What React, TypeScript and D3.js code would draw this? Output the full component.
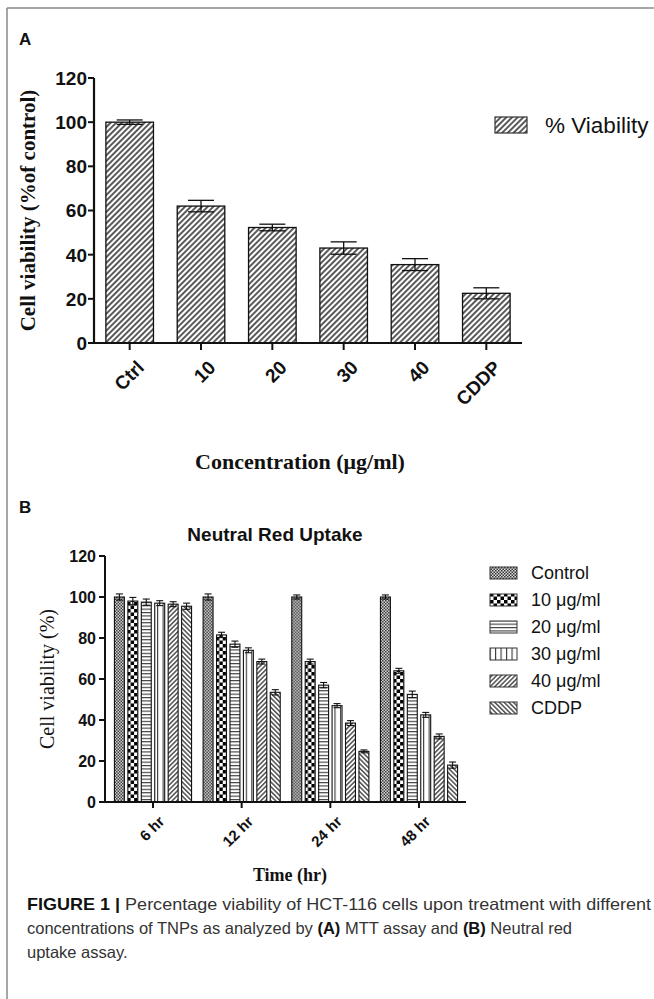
import React from 'react';
import * as d3 from 'd3';

// panel A: MTT assay
const concLabels = ['Ctrl', '10', '20', '30', '40', 'CDDP'];
const mttValues = [100, 62, 52.3, 43, 35.5, 22.5];
const mttErrors = [1, 2.6, 1.5, 2.8, 2.7, 2.5];

// panel B: neutral red uptake
const timeLabels = ['6 hr', '12 hr', '24 hr', '48 hr'];
const seriesNames = ['Control', '10 μg/ml', '20 μg/ml', '30 μg/ml', '40 μg/ml', 'CDDP'];
const nrValues = [
  [100, 98, 97.5, 97, 96.5, 95.5],
  [100, 81.5, 77, 74, 68.5, 53.5],
  [100, 68.5, 57, 47, 38.5, 24.7],
  [100, 64, 52.5, 42.5, 32, 18],
];
const nrErrors = [
  [1.5, 1.8, 1.5, 1.2, 1.2, 1.5],
  [1.5, 1.3, 1.5, 1.2, 1.2, 1.3],
  [1, 1.2, 1.3, 1, 1.2, 0.7],
  [1, 1.2, 1.6, 1.2, 1.2, 1.5],
];
const yTicks = [0, 20, 40, 60, 80, 100, 120];

const patternIds = ['pCtrl', 'pChk', 'pHor', 'pVer', 'pFwd', 'pBck'];

const sans = 'Liberation Sans, Arial, sans-serif';
const serif = 'Liberation Serif, Times New Roman, serif';

export default function App() {
  // A scales
  const xA = d3.scaleBand().domain(concLabels).range([94, 522]).paddingInner(0.333).paddingOuter(0.1667);
  const yA = d3.scaleLinear().domain([0, 120]).range([343, 78]);

  // B scales
  const x0 = d3.scaleBand().domain(timeLabels).range([106, 466]).paddingInner(0.1).paddingOuter(0.08);
  const x1 = d3.scaleBand().domain(seriesNames).range([0, x0.bandwidth()]).paddingInner(0.26).paddingOuter(0.1);
  const yB = d3.scaleLinear().domain([0, 120]).range([802, 556]);

  const capA = 13;
  const capB = 3.5;

  return (
    <svg width={654} height={999} style={{ position: 'absolute', left: 0, top: 0, background: '#fff' }}>
      <defs>
        <pattern id="hatchA" patternUnits="userSpaceOnUse" width={4} height={4} patternTransform="rotate(45)">
          <rect width={4} height={4} fill="#fff" />
          <line x1={1} y1={0} x2={1} y2={4} stroke="#222" strokeWidth={1.5} />
        </pattern>
        <pattern id="pCtrl" patternUnits="userSpaceOnUse" width={3} height={3}>
          <rect width={3} height={3} fill="#ddd" />
          <rect width={1.5} height={1.5} fill="#333" />
          <rect x={1.5} y={1.5} width={1.5} height={1.5} fill="#333" />
        </pattern>
        <pattern id="pChk" patternUnits="userSpaceOnUse" width={7} height={7}>
          <rect width={7} height={7} fill="#fff" />
          <rect width={3.5} height={3.5} fill="#000" />
          <rect x={3.5} y={3.5} width={3.5} height={3.5} fill="#000" />
        </pattern>
        <pattern id="pHor" patternUnits="userSpaceOnUse" width={4} height={3.4}>
          <rect width={4} height={3.4} fill="#fff" />
          <line x1={0} y1={0.6} x2={4} y2={0.6} stroke="#222" strokeWidth={1} />
        </pattern>
        <pattern id="pVer" patternUnits="userSpaceOnUse" width={5.5} height={4}>
          <rect width={5.5} height={4} fill="#fff" />
          <line x1={0.6} y1={0} x2={0.6} y2={4} stroke="#222" strokeWidth={1} />
        </pattern>
        <pattern id="pFwd" patternUnits="userSpaceOnUse" width={3.3} height={3.3} patternTransform="rotate(45)">
          <rect width={3.3} height={3.3} fill="#fff" />
          <line x1={0.8} y1={0} x2={0.8} y2={3.3} stroke="#222" strokeWidth={1.2} />
        </pattern>
        <pattern id="pBck" patternUnits="userSpaceOnUse" width={3.3} height={3.3} patternTransform="rotate(-45)">
          <rect width={3.3} height={3.3} fill="#fff" />
          <line x1={0.8} y1={0} x2={0.8} y2={3.3} stroke="#222" strokeWidth={1.2} />
        </pattern>
      </defs>

      {/* frame */}
      <line x1={7} y1={8} x2={654} y2={8} stroke="#888" strokeWidth={1.5} />
      <line x1={7} y1={8} x2={7} y2={999} stroke="#888" strokeWidth={1.5} />

      {/* ---------- panel A ---------- */}
      <text x={19} y={45} fontFamily={sans} fontWeight="bold" fontSize={17} fill="#111">A</text>

      {mttValues.map((v, i) => {
        const x = xA(concLabels[i])!;
        const w = xA.bandwidth();
        const cx = x + w / 2;
        return (
          <g key={'a' + i}>
            <rect x={x} y={yA(v)} width={w} height={yA(0) - yA(v)} fill="url(#hatchA)" stroke="#111" strokeWidth={1.3} />
            <line x1={cx} x2={cx} y1={yA(v + mttErrors[i])} y2={yA(v - mttErrors[i])} stroke="#111" strokeWidth={1.3} />
            <line x1={cx - capA} x2={cx + capA} y1={yA(v + mttErrors[i])} y2={yA(v + mttErrors[i])} stroke="#111" strokeWidth={1.3} />
            <line x1={cx - capA} x2={cx + capA} y1={yA(v - mttErrors[i])} y2={yA(v - mttErrors[i])} stroke="#111" strokeWidth={1.3} />
          </g>
        );
      })}

      {/* A axes */}
      <line x1={94} x2={94} y1={yA(120)} y2={yA(0)} stroke="#111" strokeWidth={2.2} />
      <line x1={94} x2={522} y1={yA(0)} y2={yA(0)} stroke="#111" strokeWidth={2.2} />
      {yTicks.map(t => (
        <g key={'ya' + t}>
          <line x1={88} x2={94} y1={yA(t)} y2={yA(t)} stroke="#111" strokeWidth={2} />
          <text x={87} y={yA(t)} dy="0.36em" textAnchor="end" fontFamily={sans} fontWeight="bold" fontSize={19} fill="#111">{t}</text>
        </g>
      ))}
      {concLabels.map(c => {
        const cx = xA(c)! + xA.bandwidth() / 2;
        return (
          <g key={'xa' + c}>
            <line x1={cx} x2={cx} y1={yA(0)} y2={yA(0) + 7} stroke="#111" strokeWidth={2} />
            <text transform={`translate(${cx + 6},${yA(0) + 16}) rotate(-45)`} textAnchor="end" dy="0.72em"
              fontFamily={sans} fontWeight="bold" fontSize={19} fill="#111">{c}</text>
          </g>
        );
      })}
      <text transform={`translate(28,${(yA(0) + yA(120)) / 2}) rotate(-90)`} textAnchor="middle" dy="0.35em"
        fontFamily={serif} fontWeight="bold" fontSize={21} fill="#111">Cell viability (%of control)</text>
      <text x={300} y={469} textAnchor="middle" fontFamily={serif} fontWeight="bold" fontSize={22} fill="#111">Concentration (μg/ml)</text>

      {/* A legend */}
      <rect x={495} y={117} width={32} height={16} fill="url(#hatchA)" stroke="#333" strokeWidth={1.2} />
      <text x={545} y={133} fontFamily={sans} fontSize={22.5} fill="#111">% Viability</text>

      {/* ---------- panel B ---------- */}
      <text x={19} y={513} fontFamily={sans} fontWeight="bold" fontSize={17} fill="#111">B</text>
      <text x={275} y={541} textAnchor="middle" fontFamily={sans} fontWeight="bold" fontSize={19} fill="#111">Neutral Red Uptake</text>

      {nrValues.map((row, g) => (
        <g key={'g' + g} transform={`translate(${x0(timeLabels[g])},0)`}>
          {row.map((v, s) => {
            const x = x1(seriesNames[s])!;
            const w = x1.bandwidth();
            const cx = x + w / 2;
            const e = nrErrors[g][s];
            return (
              <g key={'b' + s}>
                <rect x={x} y={yB(v)} width={w} height={yB(0) - yB(v)} fill={`url(#${patternIds[s]})`} stroke="#111" strokeWidth={1.1} />
                <line x1={cx} x2={cx} y1={yB(v + e)} y2={yB(v - e)} stroke="#111" strokeWidth={1.1} />
                <line x1={cx - capB} x2={cx + capB} y1={yB(v + e)} y2={yB(v + e)} stroke="#111" strokeWidth={1.1} />
                <line x1={cx - capB} x2={cx + capB} y1={yB(v - e)} y2={yB(v - e)} stroke="#111" strokeWidth={1.1} />
              </g>
            );
          })}
        </g>
      ))}

      {/* B axes */}
      <line x1={105} x2={105} y1={yB(120)} y2={yB(0)} stroke="#111" strokeWidth={2} />
      <line x1={105} x2={466} y1={yB(0)} y2={yB(0)} stroke="#111" strokeWidth={2} />
      {yTicks.map(t => (
        <g key={'yb' + t}>
          <line x1={99} x2={105} y1={yB(t)} y2={yB(t)} stroke="#111" strokeWidth={2} />
          <text x={96} y={yB(t)} dy="0.36em" textAnchor="end" fontFamily={sans} fontWeight="bold" fontSize={16} fill="#111">{t}</text>
        </g>
      ))}
      {timeLabels.map(t => {
        const cx = x0(t)! + x0.bandwidth() / 2;
        return (
          <g key={'xb' + t}>
            <line x1={cx} x2={cx} y1={yB(0)} y2={yB(0) + 6} stroke="#111" strokeWidth={2} />
            <text transform={`translate(${cx + 5},${yB(0) + 13}) rotate(-45)`} textAnchor="end" dy="0.7em"
              fontFamily={sans} fontWeight="bold" fontSize={15} fill="#111">{t}</text>
          </g>
        );
      })}
      <text transform={`translate(47,${(yB(0) + yB(120)) / 2}) rotate(-90)`} textAnchor="middle" dy="0.35em"
        fontFamily={serif} fontSize={20} fill="#111">Cell viability (%)</text>
      <text x={290} y={881} textAnchor="middle" fontFamily={serif} fontWeight="bold" fontSize={18} fill="#111">Time (hr)</text>

      {/* B legend */}
      {seriesNames.map((n, i) => (
        <g key={'lg' + i} transform={`translate(0,${573 + i * 27})`}>
          <rect x={490} y={-6} width={27} height={12} fill={`url(#${patternIds[i]})`} stroke="#333" strokeWidth={1} />
          <text x={531} y={0} dy="0.36em" fontFamily={sans} fontSize={18} fill="#111">{n}</text>
        </g>
      ))}

      {/* caption */}
      <g fontFamily={sans} fontSize={16.5} fill="#333">
        <text x={27} y={910} textLength={624} lengthAdjust="spacingAndGlyphs">
          <tspan fontWeight="bold" fill="#111">FIGURE 1 |</tspan> Percentage viability of HCT-116 cells upon treatment with different
        </text>
        <text x={27} y={934} textLength={545} lengthAdjust="spacingAndGlyphs">
          concentrations of TNPs as analyzed by <tspan fontWeight="bold" fill="#111">(A)</tspan> MTT assay and <tspan fontWeight="bold" fill="#111">(B)</tspan> Neutral red
        </text>
        <text x={27} y={958}>uptake assay.</text>
      </g>
    </svg>
  );
}
